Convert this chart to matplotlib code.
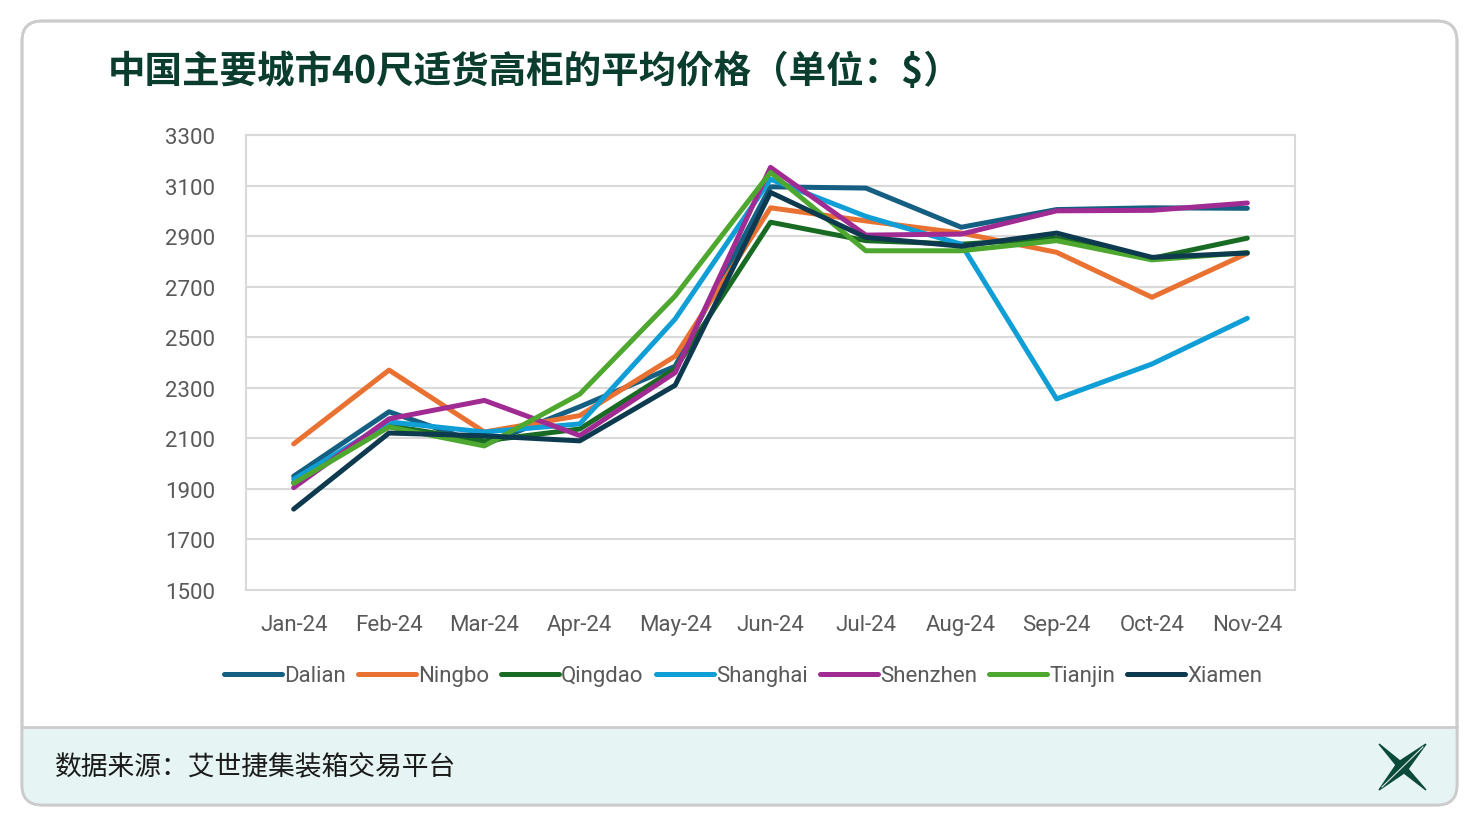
import matplotlib.pyplot as plt
from matplotlib.patches import FancyBboxPatch, Rectangle, Polygon

plt.rcParams['font.family'] = ['Roboto', 'Noto Sans CJK SC', 'DejaVu Sans']

# --- Data ---
months = ['Jan-24', 'Feb-24', 'Mar-24', 'Apr-24', 'May-24', 'Jun-24',
          'Jul-24', 'Aug-24', 'Sep-24', 'Oct-24', 'Nov-24']
dalian = [1950, 2205, 2075, 2225, 2385, 3095, 3090, 2935, 3005, 3012, 3010]
ningbo = [2078, 2370, 2125, 2190, 2425, 3012, 2960, 2912, 2836, 2658, 2832]
qingdao = [1925, 2150, 2090, 2137, 2375, 2955, 2882, 2868, 2892, 2812, 2892]
shanghai = [1938, 2165, 2125, 2157, 2572, 3125, 2978, 2868, 2256, 2394, 2575]
shenzhen = [1905, 2177, 2250, 2111, 2360, 3172, 2904, 2908, 3000, 3002, 3031]
tianjin = [1922, 2145, 2070, 2275, 2663, 3152, 2842, 2842, 2882, 2806, 2835]
xiamen = [1820, 2121, 2110, 2090, 2310, 3073, 2895, 2860, 2912, 2816, 2833]

series = {
    'Dalian': (dalian, '#156082'),
    'Ningbo': (ningbo, '#E97132'),
    'Qingdao': (qingdao, '#196B24'),
    'Shanghai': (shanghai, '#0F9ED5'),
    'Shenzhen': (shenzhen, '#A02B93'),
    'Tianjin': (tianjin, '#4EA72E'),
    'Xiamen': (xiamen, '#0D3A4E'),
}
yticks = list(range(1500, 3301, 200))

title = '中国主要城市40尺适货高柜的平均价格（单位：$）'
source = '数据来源：艾世捷集装箱交易平台'

W, H = 1480, 828
fig = plt.figure(figsize=(W / 100, H / 100), dpi=100)

# --- Card background (pixel coordinates) ---
bg = fig.add_axes([0, 0, 1, 1])
bg.set_xlim(0, W)
bg.set_ylim(H, 0)
bg.axis('off')

card = FancyBboxPatch((22, 22), 1435, 784, boxstyle='round,pad=0,rounding_size=20',
                      facecolor='white', edgecolor='#cccccc', linewidth=2, zorder=1)
bg.add_patch(card)
footer = Rectangle((22, 728), 1435, 80, facecolor='#E6F4F3', edgecolor='none', zorder=2)
bg.add_patch(footer)
footer.set_clip_path(card)
bg.plot([22, 1457], [728, 728], color='#cccccc', lw=2, zorder=3)
card2 = FancyBboxPatch((22, 22), 1435, 784, boxstyle='round,pad=0,rounding_size=20',
                       facecolor='none', edgecolor='#cccccc', linewidth=2, zorder=4)
bg.add_patch(card2)

bg.text(108, 71, title, fontsize=27, fontweight='bold', color='#0B3D2E',
        family=['Noto Sans CJK SC', 'DejaVu Sans'], va='center', ha='left', zorder=5)
bg.text(55, 768, source, fontsize=19.3, color='#1a1a1a',
        family=['Noto Sans CJK SC', 'DejaVu Sans'], va='center', ha='left', zorder=5)

# logo: four-pointed star
cx, cy = 1402, 768
star = [(1379, 745), (cx - 2, cy - 6), (1426, 745), (cx + 6, cy + 2),
        (1426, 791), (cx + 2, cy + 6), (1379, 791), (cx - 6, cy - 2)]
bg.add_patch(Polygon(star, closed=True, facecolor='#0B4A3A', edgecolor='#0B4A3A', zorder=5))
bg.plot([1382, 1423], [788, 748], color='#dfe9e6', lw=0.8, zorder=6)

# --- Chart ---
ax = fig.add_axes([246 / W, 1 - 591 / H, (1295 - 246) / W, (591 - 136) / H])
x = list(range(len(months)))
for name, (vals, color) in series.items():
    ax.plot(x, vals, color=color, lw=3.6, label=name, solid_capstyle='round',
            solid_joinstyle='round')

ax.set_xlim(-0.5, len(months) - 0.5)
ax.set_ylim(1500, 3300)
ax.set_yticks(yticks)
ax.set_xticks(x)
ax.set_xticklabels(months)
ax.tick_params(axis='both', length=0, labelsize=16, colors='#595959')
ax.tick_params(axis='x', pad=17)
ax.tick_params(axis='y', pad=22)
ax.grid(axis='y', color='#d9d9d9', lw=1.5)
ax.set_axisbelow(True)
for s in ax.spines.values():
    s.set_color('#d9d9d9')
    s.set_linewidth(1.5)

fig.legend(loc='center', bbox_to_anchor=(743 / W, 1 - 677 / H), ncol=7, frameon=False,
           fontsize=16, labelcolor='#595959', handlelength=2.6, handletextpad=0.1,
           columnspacing=0.55)

fig.savefig('out.png', dpi=100)
